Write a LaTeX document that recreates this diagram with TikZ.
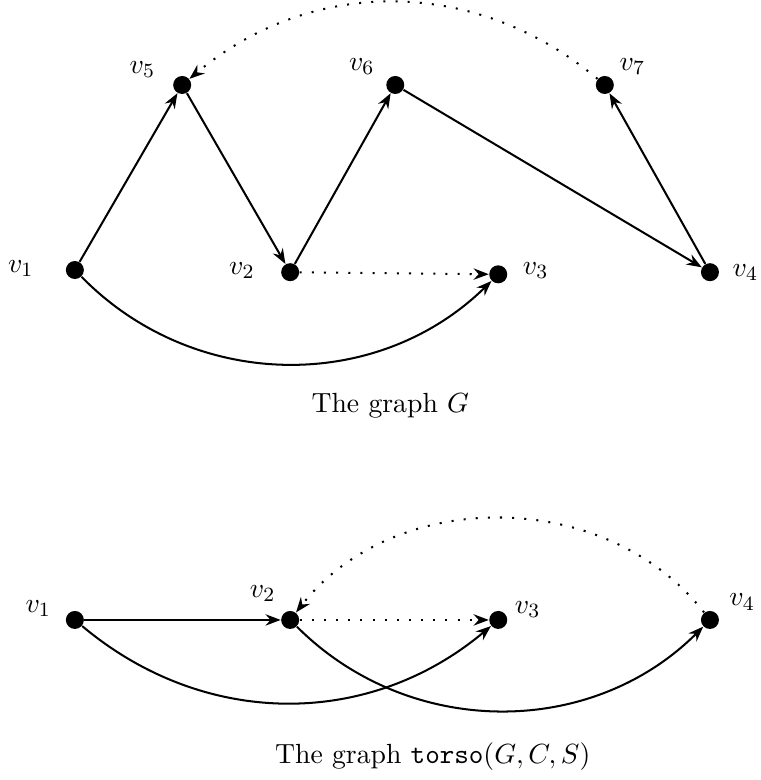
\documentclass[tikz,border=0pt,11pt]{standalone}
\usetikzlibrary{arrows.meta}
\begin{document}
\begin{tikzpicture}[
    grVtx/.style={circle,fill=black,inner sep=0pt,minimum size=0.25cm},
    grLbl/.style={anchor=center,label distance=#1},
    grArr/.style={-{Stealth[length=6pt,width=4.5pt,inset=2pt]},thick},
    grDot/.style={grArr,loosely dotted},
]
\useasboundingbox (0,0) rectangle (10.556,-10.833);
% the graph G
\node[grVtx,label={[grLbl=0.62cm]178:$v_1$}] (G1) at (1.04,-3.75) {};
\node[grVtx,label={[grLbl=0.54cm]178:$v_2$}] (G2) at (4.03,-3.78) {};
\node[grVtx,label={[grLbl=0.39cm]6:$v_3$}] (G3) at (6.92,-3.81) {};
\node[grVtx,label={[grLbl=0.36cm]0:$v_4$}] (G4) at (9.86,-3.78) {};
\node[grVtx,label={[grLbl=0.46cm]159:$v_5$}] (G5) at (2.53,-1.18) {};
\node[grVtx,label={[grLbl=0.40cm]151:$v_6$}] (G6) at (5.49,-1.18) {};
\node[grVtx,label={[grLbl=0.33cm]34:$v_7$}] (G7) at (8.40,-1.18) {};
\node (capG) at (5.42,-5.63) {The graph $G$};
\draw[grArr] (G1) -- (G5);
\draw[grArr] (G5) -- (G2);
\draw[grArr] (G2) -- (G6);
\draw[grArr] (G6) -- (G4);
\draw[grArr] (G4) -- (G7);
\draw[grDot] (G7) to[bend right=40] (G5);
\draw[grDot] (G2) -- (G3);
\draw[grArr] (G1) to[bend right=45] (G3);
% the torso
\node[grVtx,label={[grLbl=0.40cm]163:$v_1$}] (T1) at (1.04,-8.61) {};
\node[grVtx,label={[grLbl=0.40cm]136:$v_2$}] (T2) at (4.03,-8.61) {};
\node[grVtx,label={[grLbl=0.30cm]19:$v_3$}] (T3) at (6.92,-8.61) {};
\node[grVtx,label={[grLbl=0.38cm]29:$v_4$}] (T4) at (9.86,-8.61) {};
\node (capT) at (6.01,-10.51) {The graph $\texttt{torso}(G,C,S)$};
\draw[grArr] (T1) -- (T2);
\draw[grDot] (T2) -- (T3);
\draw[grDot] (T4) to[bend right=52] (T2);
\draw[grArr] (T1) to[bend right=40] (T3);
\draw[grArr] (T2) to[bend right=45] (T4);
\end{tikzpicture}
\end{document}
